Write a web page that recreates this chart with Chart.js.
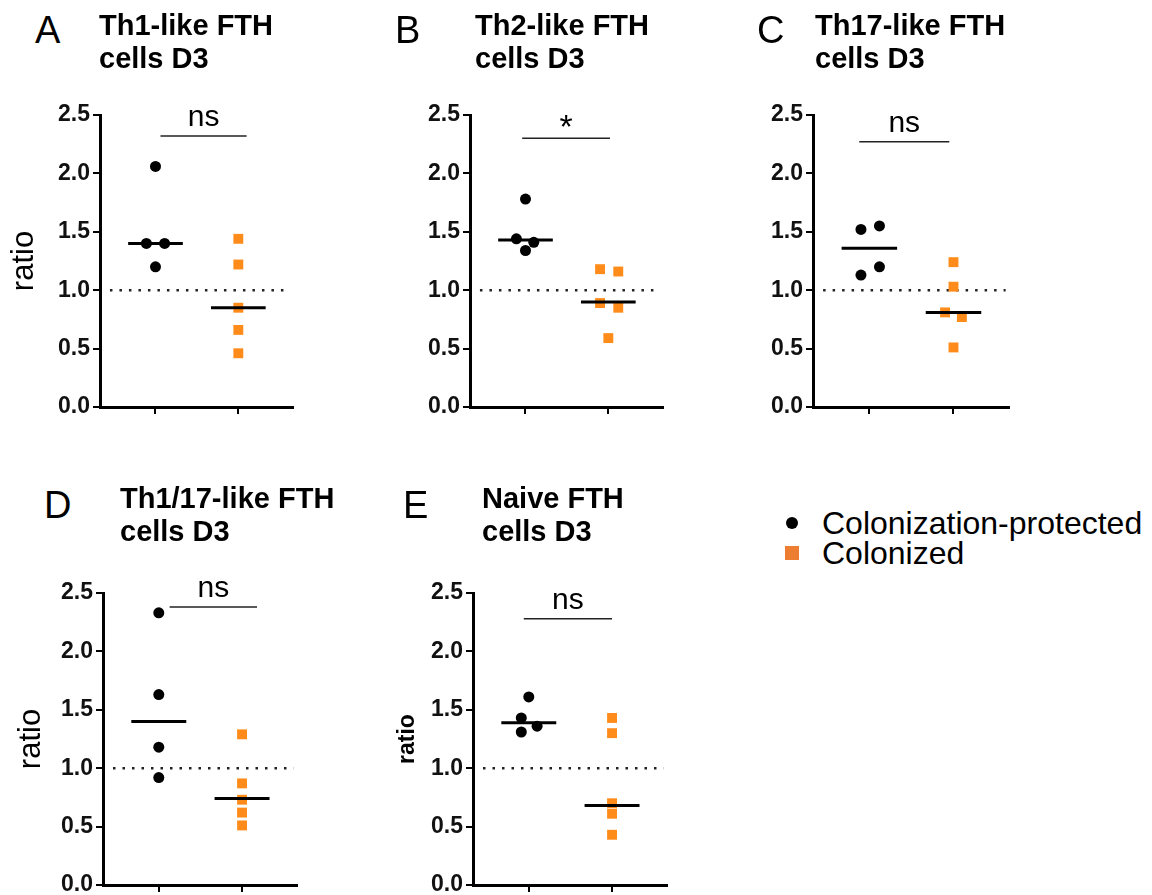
<!DOCTYPE html>
<html>
<head>
<meta charset="utf-8">
<script src="https://cdn.jsdelivr.net/npm/chart.js@4.4.0/dist/chart.umd.min.js"></script>
<style>
  body { margin: 0; background: #fff; }
  #wrap { position: relative; width: 1152px; height: 895px; overflow: hidden; font-family: Arial, "Liberation Sans", sans-serif; color: #000; }
  canvas { position: absolute; }
  .letter { position: absolute; font-size: 38px; line-height: 38px; z-index: 2; }
  .title { position: absolute; font-size: 29px; line-height: 33px; font-weight: bold; white-space: nowrap; z-index: 2; }
  .legend { position: absolute; left: 782px; top: 508px; font-size: 32px; line-height: 30px; z-index: 2; }
  .legend div { position: relative; padding-left: 40px; white-space: nowrap; }
  .legend .dot { position: absolute; left: 4px; top: 9px; width: 12px; height: 12px; border-radius: 50%; background: #000; }
  .legend .sq { position: absolute; left: 3px; top: 8px; width: 14px; height: 14px; background: #ED7D31; }
</style>
</head>
<body>
<div id="wrap"></div>
<script>
const groups = ['Colonization-protected', 'Colonized'];
const panelLetters = ['A', 'B', 'C', 'D', 'E'];
const panelTitles = [
  ['Th1-like FTH', 'cells D3'],
  ['Th2-like FTH', 'cells D3'],
  ['Th17-like FTH', 'cells D3'],
  ['Th1/17-like FTH', 'cells D3'],
  ['Naive FTH', 'cells D3']
];
const protectedVals = [
  [2.06, 1.40, 1.40, 1.20],
  [1.78, 1.44, 1.41, 1.34],
  [1.55, 1.52, 1.20, 1.13],
  [2.33, 1.63, 1.18, 0.92],
  [1.61, 1.43, 1.36, 1.31]
];
const colonizedVals = [
  [1.44, 1.22, 0.85, 0.66, 0.46],
  [1.18, 1.16, 0.89, 0.85, 0.59],
  [1.24, 1.03, 0.81, 0.77, 0.51],
  [1.29, 0.87, 0.73, 0.62, 0.51],
  [1.43, 1.30, 0.70, 0.61, 0.43]
];
const protectedMedian = [1.40, 1.43, 1.36, 1.40, 1.39];
const colonizedMedian = [0.85, 0.90, 0.81, 0.74, 0.68];
const significance = ['ns', '*', 'ns', 'ns', 'ns'];
const sigBarY = [2.32, 2.30, 2.27, 2.38, 2.28];
const yTicks = [0, 0.5, 1.0, 1.5, 2.0, 2.5];
const referenceLine = 1.0;

const groupColors = ['#000000', '#FF8C1A'];

// layout: plot area in page pixels, point scatter offsets, bar spans
const plotBoxes = [
  { left: 100, right: 293, top: 115 },
  { left: 470, right: 663, top: 115 },
  { left: 813, right: 1009, top: 115 },
  { left: 103, right: 297, top: 593 },
  { left: 473, right: 667, top: 593 }
];
const titlePos = [
  { lx: 35, ly: 11, tx: 99, ty: 9 },
  { lx: 395, ly: 11, tx: 475, ty: 9 },
  { lx: 757, ly: 11, tx: 815, ty: 9 },
  { lx: 44, ly: 486, tx: 120, ty: 482 },
  { lx: 403, ly: 486, tx: 482, ty: 482 }
];
const protectedJitter = [
  [0, -0.11, 0.11, 0],
  [0, -0.11, 0.10, 0],
  [0.12, -0.10, 0.12, -0.10],
  [0, 0, 0, 0],
  [0, -0.09, 0.10, -0.09]
];
const colonizedJitter = [
  [0, 0, 0, 0, 0],
  [-0.10, 0.12, -0.10, 0.12, 0],
  [0, 0, -0.10, 0.10, 0],
  [0, 0, 0, 0, 0],
  [0, 0, 0, 0, 0]
];
const sigSpan = [[1.06, 2.10], [0.96, 2.02], [0.88, 1.95], [1.13, 2.18], [0.94, 2.00]];
const ratioTitle = [
  { size: 31, weight: 'normal', pad: 6 },
  null,
  null,
  { size: 31, weight: 'normal', pad: 10 },
  { size: 23, weight: 'bold', pad: 21 }
];

Chart.defaults.font.family = 'Arial, "Liberation Sans", sans-serif';
Chart.defaults.color = '#000';

const PAD_TOP = 50, AXIS_W = 100, X_H = 17, PLOT_H = 292;

const sigLabel = {
  id: 'sigLabel',
  afterDatasetsDraw(chart, args, opts) {
    const { ctx, scales: { x, y } } = chart;
    const star = opts.text === '*';
    ctx.save();
    ctx.font = (star ? '34px' : '30px') + ' Arial, "Liberation Sans", sans-serif';
    ctx.fillStyle = '#000';
    ctx.textAlign = 'center';
    ctx.textBaseline = 'alphabetic';
    ctx.fillText(opts.text, x.getPixelForValue(opts.x), y.getPixelForValue(opts.y) - (star ? 0 : 10));
    ctx.restore();
  }
};

const wrap = document.getElementById('wrap');

panelLetters.forEach((letter, i) => {
  const box = plotBoxes[i];
  const pos = titlePos[i];

  const l = document.createElement('div');
  l.className = 'letter';
  l.style.left = pos.lx + 'px';
  l.style.top = pos.ly + 'px';
  l.textContent = letter;
  wrap.appendChild(l);

  const t = document.createElement('div');
  t.className = 'title';
  t.style.left = pos.tx + 'px';
  t.style.top = pos.ty + 'px';
  t.innerHTML = panelTitles[i].join('<br>');
  wrap.appendChild(t);

  const padRight = 10;
  const canvas = document.createElement('canvas');
  const cw = AXIS_W + (box.right - box.left) + padRight;
  const ch = PAD_TOP + PLOT_H + X_H;
  canvas.width = cw;
  canvas.height = ch;
  canvas.style.left = (box.left - AXIS_W) + 'px';
  canvas.style.top = (box.top - PAD_TOP) + 'px';
  wrap.appendChild(canvas);

  const pts1 = protectedVals[i].map((v, k) => ({ x: 1 + protectedJitter[i][k], y: v }));
  const pts2 = colonizedVals[i].map((v, k) => ({ x: 2 + colonizedJitter[i][k], y: v }));
  const rt = ratioTitle[i];

  new Chart(canvas, {
    type: 'scatter',
    data: {
      datasets: [
        {
          type: 'line', label: 'median1', order: 0, clip: false,
          data: [{ x: 0.67, y: protectedMedian[i] }, { x: 1.33, y: protectedMedian[i] }],
          borderColor: '#000', borderWidth: 3, pointRadius: 0
        },
        {
          type: 'line', label: 'median2', order: 0, clip: false,
          data: [{ x: 1.67, y: colonizedMedian[i] }, { x: 2.33, y: colonizedMedian[i] }],
          borderColor: '#000', borderWidth: 3, pointRadius: 0
        },
        {
          label: groups[0], order: 1, clip: false,
          data: pts1, pointStyle: 'circle', pointRadius: 5.5,
          backgroundColor: groupColors[0], borderColor: groupColors[0], borderWidth: 0
        },
        {
          label: groups[1], order: 1, clip: false,
          data: pts2, pointStyle: 'rect', pointRadius: 7,
          backgroundColor: groupColors[1], borderColor: groupColors[1], borderWidth: 0
        },
        {
          type: 'line', label: 'sig', order: 2, clip: false,
          data: [{ x: sigSpan[i][0], y: sigBarY[i] }, { x: sigSpan[i][1], y: sigBarY[i] }],
          borderColor: '#222', borderWidth: 1.5, pointRadius: 0
        },
        {
          type: 'line', label: 'ref', order: 3, clip: false,
          data: [{ x: 0.45, y: referenceLine }, { x: 2.62, y: referenceLine }],
          borderColor: '#222', borderWidth: 2.5, borderDash: [2.5, 7], pointRadius: 0
        }
      ]
    },
    options: {
      responsive: false,
      animation: false,
      events: [],
      layout: { padding: { top: PAD_TOP, right: padRight, bottom: 0, left: 0 } },
      plugins: {
        legend: { display: false },
        tooltip: { enabled: false },
        sigLabel: { text: significance[i], x: (sigSpan[i][0] + sigSpan[i][1]) / 2, y: sigBarY[i] }
      },
      scales: {
        x: {
          type: 'linear', min: 0.33, max: 2.66,
          afterBuildTicks: s => { s.ticks = [{ value: 1 }, { value: 2 }]; },
          afterFit: s => { s.height = X_H; },
          ticks: { display: false },
          grid: { drawOnChartArea: false, drawTicks: true, tickLength: 7, color: '#000', lineWidth: 2 },
          border: { display: true, color: '#000', width: 3 }
        },
        y: {
          min: 0, max: 2.5,
          afterBuildTicks: s => { s.ticks = yTicks.map(v => ({ value: v })); },
          afterFit: s => { s.width = AXIS_W; },
          ticks: {
            callback: v => v.toFixed(1),
            font: { size: 23, weight: 'bold' },
            color: '#111',
            padding: 3
          },
          grid: { drawOnChartArea: false, drawTicks: true, tickLength: 7, color: '#000', lineWidth: 2 },
          border: { display: true, color: '#000', width: 3 },
          title: rt ? {
            display: true, text: 'ratio',
            font: { size: rt.size, weight: rt.weight },
            padding: { top: rt.pad, bottom: 0 }
          } : { display: false }
        }
      }
    },
    plugins: [sigLabel]
  });
});

const legend = document.createElement('div');
legend.className = 'legend';
legend.innerHTML =
  '<div><span class="dot"></span>' + groups[0] + '</div>' +
  '<div><span class="sq"></span>' + groups[1] + '</div>';
wrap.appendChild(legend);
</script>
</body>
</html>
